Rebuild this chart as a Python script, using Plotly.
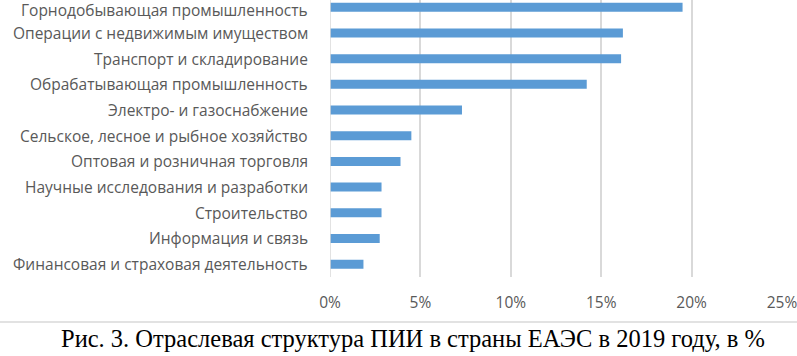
import plotly.graph_objects as go

categories = [
    "Горнодобывающая промышленность",
    "Операции с недвижимым имуществом",
    "Транспорт и складирование",
    "Обрабатывающая промышленность",
    "Электро- и газоснабжение",
    "Сельское, лесное и рыбное хозяйство",
    "Оптовая и розничная торговля",
    "Научные исследования и разработки",
    "Строительство",
    "Информация и связь",
    "Финансовая и страховая деятельность",
]
values = [19.5, 16.2, 16.1, 14.2, 7.3, 4.5, 3.9, 2.85, 2.85, 2.75, 1.85]
tick_vals = [0, 5, 10, 15, 20, 25]
tick_text = ["0%", "5%", "10%", "15%", "20%", "25%"]
caption = "Рис. 3. Отраслевая структура ПИИ в страны ЕАЭС в 2019 году, в %"

cats_plot = categories[::-1]
vals_plot = values[::-1]

fig = go.Figure(go.Bar(
    x=vals_plot, y=cats_plot, orientation="h",
    marker=dict(color="#5B9BD5", line=dict(width=0)),
    width=0.35, hoverinfo="skip",
))

W, H = 797, 356
ml, mr, mt, mb = 330, 797 - 782, 0, 79
PW = W - ml - mr
PH = H - mt - mb
label_font = dict(family="Open Sans", size=15.5, color="#595959")

annotations = []
for i, cat in enumerate(categories):
    annotations.append(dict(
        text=cat, xref="paper", yref="y", x=0, y=cat,
        xanchor="right", yanchor="middle", xshift=-20,
        yshift=-3 if i == 0 else 0,
        showarrow=False, font=label_font,
    ))
annotations.append(dict(
    text=caption, xref="paper", yref="paper",
    x=(413 - ml) / PW, y=(PH - 338) / PH,
    xanchor="center", yanchor="middle", showarrow=False,
    font=dict(family="Liberation Serif", size=24.5, color="black"),
))

fig.update_layout(
    width=W, height=H,
    margin=dict(l=ml, r=mr, t=mt, b=mb, pad=0, autoexpand=False),
    paper_bgcolor="white", plot_bgcolor="white",
    showlegend=False,
    font=label_font,
    xaxis=dict(
        range=[0, 25], tickvals=tick_vals, ticktext=tick_text,
        showgrid=True, gridcolor="#D9D9D9", gridwidth=1.5,
        zeroline=False, showline=False, ticks="",
        ticklabelstandoff=14, automargin=False,
        ticklabeloverflow="allow",
        tickfont=label_font,
    ),
    yaxis=dict(
        type="category", range=[-0.5, 10.284],
        categoryorder="array", categoryarray=cats_plot,
        showgrid=False, zeroline=False, showline=False, ticks="",
        showticklabels=False, automargin=False,
    ),
    shapes=[
        dict(type="line", xref="x", yref="paper", x0=0, x1=0, y0=0, y1=1,
             line=dict(color="#D9D9D9", width=1.5)),
        dict(type="line", xref="paper", yref="paper",
             x0=(0 - ml) / PW, x1=(W - ml) / PW,
             y0=(PH - 322) / PH, y1=(PH - 322) / PH,
             line=dict(color="#D9D9D9", width=1.5)),
    ],
    annotations=annotations,
)

fig.write_html("out.html", config={"displayModeBar": False},
               post_script="document.body.style.margin='0px';")
